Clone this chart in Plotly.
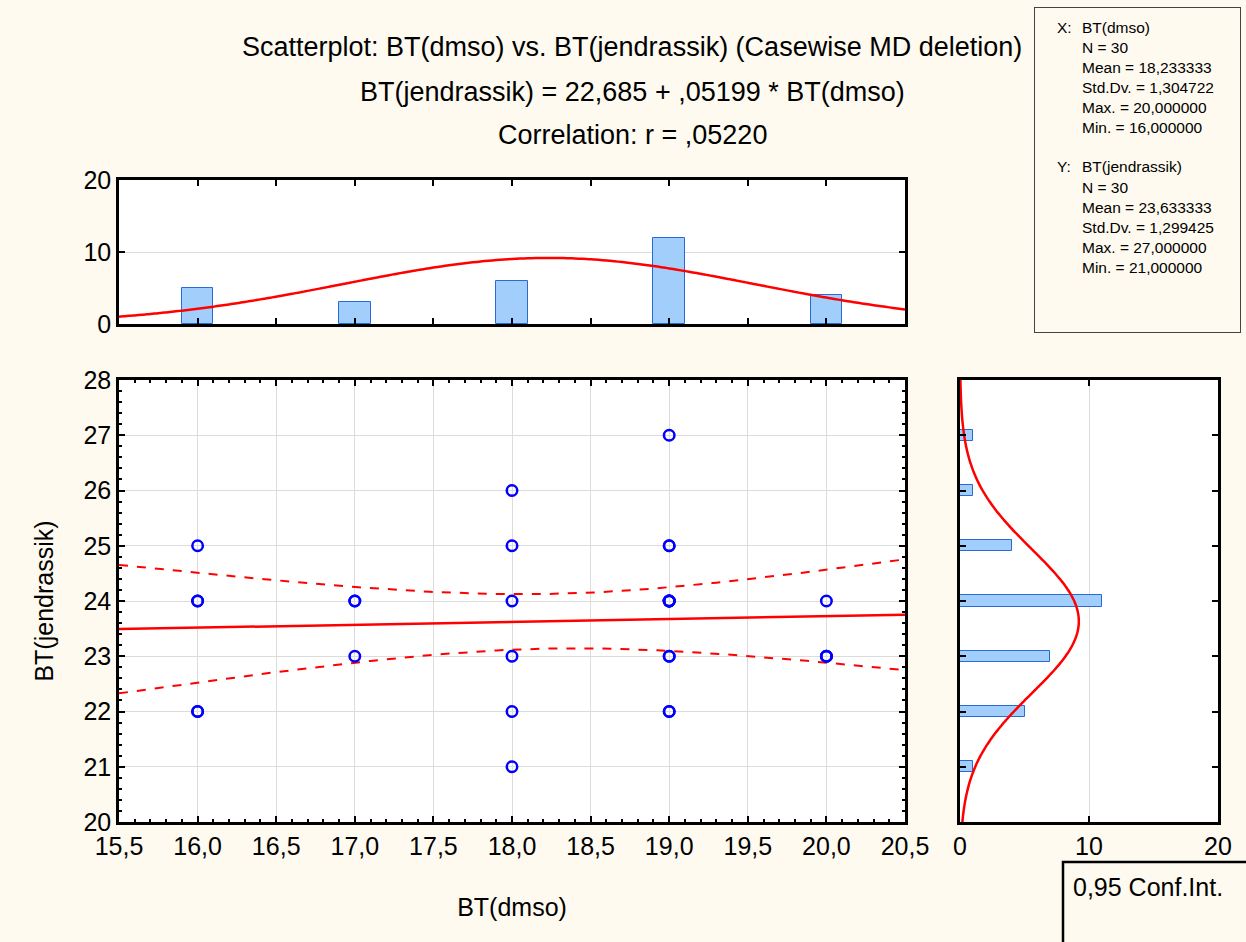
import numpy as np
import plotly.graph_objects as go

# ---------------- data ----------------
bt_dmso = [16, 16, 16, 16, 16,
           17, 17, 17,
           18, 18, 18, 18, 18, 18,
           19, 19, 19, 19, 19, 19, 19, 19, 19, 19, 19, 19,
           20, 20, 20, 20]
bt_jendrassik = [22, 22, 24, 24, 25,
                 23, 24, 24,
                 21, 22, 23, 24, 25, 26,
                 22, 22, 23, 23, 24, 24, 24, 24, 24, 25, 25, 27,
                 23, 23, 23, 24]

x_tick_vals = [15.5, 16.0, 16.5, 17.0, 17.5, 18.0, 18.5, 19.0, 19.5, 20.0, 20.5]
x_tick_text = ["15,5", "16,0", "16,5", "17,0", "17,5", "18,0", "18,5", "19,0", "19,5", "20,0", "20,5"]
y_tick_vals = [20, 21, 22, 23, 24, 25, 26, 27, 28]
hist_tick_vals = [0, 10, 20]

title_lines = ["Scatterplot: BT(dmso) vs. BT(jendrassik) (Casewise MD deletion)",
               "BT(jendrassik) = 22,685 + ,05199 * BT(dmso)",
               "Correlation: r = ,05220"]
stats_x = ["N = 30", "Mean = 18,233333", "Std.Dv. = 1,304722", "Max. = 20,000000", "Min. = 16,000000"]
stats_y = ["N = 30", "Mean = 23,633333", "Std.Dv. = 1,299425", "Max. = 27,000000", "Min. = 21,000000"]
T_975_DF28 = 2.0484  # Student t quantile for 0.95 CI, df = 28

# ---------------- derived ----------------
x = np.array(bt_dmso, float)
y = np.array(bt_jendrassik, float)
n = len(x)
mx, my = x.mean(), y.mean()
sx, sy = x.std(ddof=1), y.std(ddof=1)
sxx = ((x - mx) ** 2).sum()
b = ((x - mx) * (y - my)).sum() / sxx
a = my - b * mx
res_s = np.sqrt(((y - (a + b * x)) ** 2).sum() / (n - 2))

xl = np.linspace(15.5, 20.5, 201)
yl = a + b * xl
half = T_975_DF28 * res_s * np.sqrt(1.0 / n + (xl - mx) ** 2 / sxx)

xb, xc = np.unique(x, return_counts=True)
yb, yc = np.unique(y, return_counts=True)
xn = np.linspace(15.5, 20.5, 201)
xnorm = n * 1.0 * np.exp(-0.5 * ((xn - mx) / sx) ** 2) / (sx * np.sqrt(2 * np.pi))
yn = np.linspace(20, 28, 201)
ynorm = n * 1.0 * np.exp(-0.5 * ((yn - my) / sy) ** 2) / (sy * np.sqrt(2 * np.pi))

# ---------------- layout helpers ----------------
W, H = 1246, 942
def px(v): return v / W
def py(v): return 1 - v / H

BG = "#FEFAEF"
FONT = "Arial, Liberation Sans, sans-serif"
RED = "#FF0000"
BAR_FILL = "#A2CEFB"
BAR_LINE = "#2A6AD8"

fig = go.Figure()

# main scatter
fig.add_trace(go.Scatter(x=xl, y=yl, mode="lines", line=dict(color=RED, width=2.5),
                         xaxis="x", yaxis="y", showlegend=False, hoverinfo="skip"))
fig.add_trace(go.Scatter(x=xl, y=yl + half, mode="lines", line=dict(color=RED, width=2, dash="dash"),
                         xaxis="x", yaxis="y", showlegend=False, hoverinfo="skip"))
fig.add_trace(go.Scatter(x=xl, y=yl - half, mode="lines", line=dict(color=RED, width=2, dash="dash"),
                         xaxis="x", yaxis="y", showlegend=False, hoverinfo="skip"))
fig.add_trace(go.Scatter(x=bt_dmso, y=bt_jendrassik, mode="markers",
                         marker=dict(symbol="circle-open", size=10.5, color="#0000FF", line=dict(width=2.5, color="#0000FF")),
                         xaxis="x", yaxis="y", showlegend=False))

# top histogram
fig.add_trace(go.Bar(x=xb, y=xc, width=0.2, marker=dict(color=BAR_FILL, line=dict(color=BAR_LINE, width=1)),
                     xaxis="x2", yaxis="y2", showlegend=False))
fig.add_trace(go.Scatter(x=xn, y=xnorm, mode="lines", line=dict(color=RED, width=2.5, shape="spline"),
                         xaxis="x2", yaxis="y2", showlegend=False, hoverinfo="skip"))

# right histogram
fig.add_trace(go.Bar(y=yb, x=yc, orientation="h", width=0.2,
                     marker=dict(color=BAR_FILL, line=dict(color=BAR_LINE, width=1)),
                     xaxis="x3", yaxis="y3", showlegend=False))
fig.add_trace(go.Scatter(x=ynorm, y=yn, mode="lines", line=dict(color=RED, width=2.5, shape="spline"),
                         xaxis="x3", yaxis="y3", showlegend=False, hoverinfo="skip"))

axis_common = dict(showline=True, linecolor="black", linewidth=2.5, mirror="allticks",
                   ticks="inside", tickcolor="black", tickwidth=2, ticklen=6,
                   tickfont=dict(family=FONT, size=25, color="black"),
                   zeroline=False, gridcolor="#DCDCDC", gridwidth=1, fixedrange=True,
                   automargin=False)

fig.update_layout(
    width=W, height=H, margin=dict(l=0, r=0, t=0, b=0, autoexpand=False),
    paper_bgcolor=BG, plot_bgcolor="white", bargap=0, barmode="overlay",
    font=dict(family=FONT, color="black"),
    xaxis=dict(domain=[px(119), px(905)], anchor="y", range=[15.5, 20.5],
               tickmode="array", tickvals=x_tick_vals, ticktext=x_tick_text, showgrid=True,
               minor=dict(ticks="inside", dtick=0.1, ticklen=3, tickcolor="black", tickwidth=1.5, showgrid=False),
               title=dict(text="BT(dmso)", font=dict(size=25), standoff=40), **axis_common),
    yaxis=dict(domain=[1 - 822 / H, 1 - 380 / H], anchor="x", range=[20, 28],
               tickmode="array", tickvals=y_tick_vals, showgrid=True,
               minor=dict(ticks="inside", dtick=0.2, ticklen=3, tickcolor="black", tickwidth=1.5, showgrid=False),
               title=dict(text="BT(jendrassik)", font=dict(size=25), standoff=23), **axis_common),
    xaxis2=dict(domain=[px(119), px(905)], anchor="y2", range=[15.5, 20.5],
                tickmode="array", tickvals=x_tick_vals, showticklabels=False, showgrid=False, **axis_common),
    yaxis2=dict(domain=[1 - 324 / H, 1 - 180 / H], anchor="x2", range=[0, 20],
                tickmode="array", tickvals=hist_tick_vals, showgrid=True, **axis_common),
    xaxis3=dict(domain=[px(960), px(1218)], anchor="y3", range=[0, 20],
                tickmode="array", tickvals=hist_tick_vals, showgrid=True, **axis_common),
    yaxis3=dict(domain=[1 - 822 / H, 1 - 380 / H], anchor="x3", range=[20, 28],
                tickmode="array", tickvals=y_tick_vals, showticklabels=False, showgrid=False, **axis_common),
)

annotations = []
for txt, yc_ in zip(title_lines, [47, 92, 135]):
    annotations.append(dict(text=txt, x=px(632), y=py(yc_), xref="paper", yref="paper",
                            xanchor="center", yanchor="middle", showarrow=False,
                            font=dict(family=FONT, size=27, color="black")))
# statistics box (drawn over the first title line)
annotations.append(dict(text=" ", x=px(1034), y=py(7), xref="paper", yref="paper",
                        xanchor="left", yanchor="top", showarrow=False, width=205, height=324,
                        bgcolor=BG, bordercolor="#444444", borderwidth=1, borderpad=0))
SFONT = dict(family=FONT, size=15.5, color="black")
def stat_line(txt, xx, yy):
    annotations.append(dict(text=txt, x=px(xx), y=py(yy), xref="paper", yref="paper",
                            xanchor="left", yanchor="middle", showarrow=False, font=SFONT))
stat_line("X:", 1055, 28)
stat_line("BT(dmso)", 1080, 28)
for i, t in enumerate(stats_x):
    stat_line(t, 1080, 48 + 20 * i)
stat_line("Y:", 1055, 167)
stat_line("BT(jendrassik)", 1080, 167)
for i, t in enumerate(stats_y):
    stat_line(t, 1080, 187 + 20 * i)

# confidence-interval legend box
annotations.append(dict(text="0,95 Conf.Int.", x=px(1071), y=py(887), xref="paper", yref="paper",
                        xanchor="left", yanchor="middle", showarrow=False,
                        font=dict(family=FONT, size=25, color="black")))
fig.update_layout(annotations=annotations)
fig.add_shape(type="rect", xref="paper", yref="paper", x0=px(1063), x1=1.05, y0=-0.05, y1=py(862),
              line=dict(color="black", width=2.5), fillcolor=BG, layer="below")

fig.write_html("out.html")
